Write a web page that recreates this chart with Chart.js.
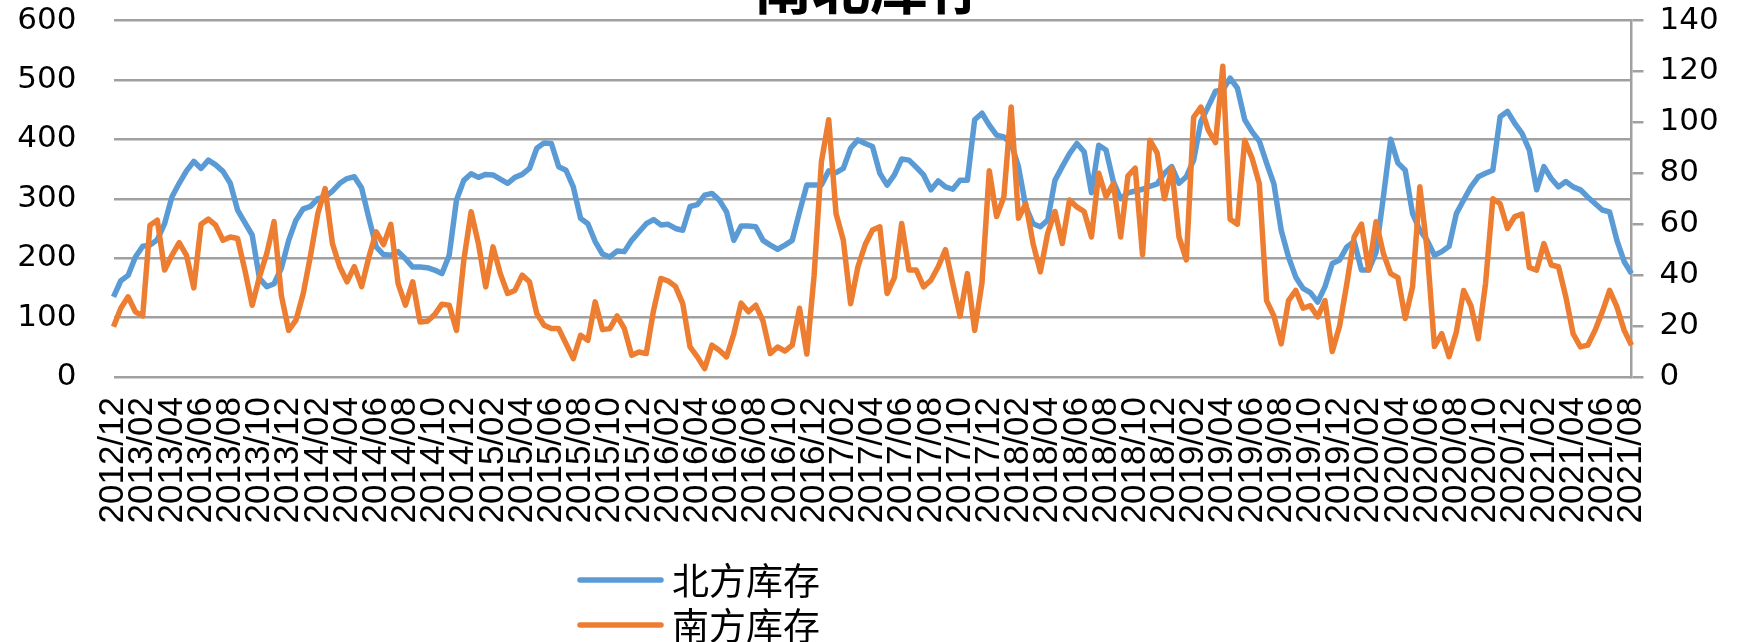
<!DOCTYPE html>
<html>
<head>
<meta charset="utf-8">
<script src="https://cdn.jsdelivr.net/npm/chart.js@4.4.1/dist/chart.umd.min.js"></script>
<style>
html,body{margin:0;padding:0;background:#ffffff;overflow:hidden;width:1740px;height:642px;}
#wrap{position:absolute;left:0;top:-42px;}
canvas{display:block;}
</style>
</head>
<body>
<div id="wrap"><canvas id="c" width="1740" height="684"></canvas></div>
<script>
// ---------- data ----------
const chartTitle = '南北库存';
const seriesNames = ['北方库存', '南方库存'];

const tickLabels = [
  '2012/12',
  '2013/02','2013/04','2013/06','2013/08','2013/10','2013/12',
  '2014/02','2014/04','2014/06','2014/08','2014/10','2014/12',
  '2015/02','2015/04','2015/06','2015/08','2015/10','2015/12',
  '2016/02','2016/04','2016/06','2016/08','2016/10','2016/12',
  '2017/02','2017/04','2017/06','2017/08','2017/10','2017/12',
  '2018/02','2018/04','2018/06','2018/08','2018/10','2018/12',
  '2019/02','2019/04','2019/06','2019/08','2019/10','2019/12',
  '2020/02','2020/04','2020/06','2020/08','2020/10','2020/12',
  '2021/02','2021/04','2021/06','2021/08'
];

// 北方库存 (left axis), semi-monthly readings from 2012/12 to 2021/08
const northStock = [
  135,162,171,202,220,222,231,258,303,326,347,363,351,365,357,346,326,281,260,239,166,152,157,183,230,264,283,287,300,303,313,326,334,337,318,
  267,219,206,205,211,199,185,185,184,180,174,205,298,331,342,336,341,340,333,326,336,341,351,385,394,393,354,348,320,267,258,228,207,202,212,
  211,230,244,258,265,256,257,250,247,287,290,306,309,298,278,230,254,254,253,230,222,215,222,230,278,323,323,323,347,344,351,385,399,393,
  388,343,323,340,367,365,353,340,315,330,320,316,331,331,433,444,424,407,404,393,354,287,258,253,264,331,354,376,393,379,310,390,382,329,300,
  310,313,316,321,325,343,354,326,337,365,430,455,481,483,503,486,433,413,397,360,325,247,202,168,149,142,126,152,191,197,219,228,180,180,
  210,303,400,360,348,275,247,230,205,211,220,275,298,320,337,343,348,438,447,427,410,382,315,354,334,320,329,320,315,303,292,281,278,230,194,174
];

// 南方库存 (right axis), semi-monthly readings from 2012/12 to 2021/08
const southStock = [
  19.7,27,31.5,25.6,24,59.6,61.6,42,47.8,52.8,47.8,35,60,62,59.6,53.7,55,54.4,42,28.2,39.3,48.5,61,32,18.3,22.3,32.8,47.8,64.2,74,52.4,43.3,37.4,43.3,35.5,
  47.2,57,52,60,36.7,28.2,37.4,21.6,21.9,24.5,28.6,28.2,18.3,45.9,64.9,52.4,35.4,51.1,40.6,32.8,34,40,37.4,24.9,20.3,19,19,13.1,7.2,16.4,14.4,29.5,18.6,19,24,
  19,8.5,9.8,9.2,26.2,38.7,37.7,35.6,28.8,11.8,7.9,3.3,12.5,10.5,7.9,17,29,25.6,28.2,22,9.2,11.8,10.2,12.5,27,9,40,84.5,101,64.2,53.7,28.8,43.3,52,
  57.7,59,32.8,39,60.3,42,42,35.4,38,43.3,50,36.7,23.9,40.6,18.3,37,81,63,70.8,106,62.3,68,52.4,41.3,56.4,65,52.4,69.5,66.8,65,55,80,70.8,76,55,
  79,82,48,93,88,70,82,55,46,102,106,97,92,122,62,60,93,86,76,30,24,13,30,34,27,28,23.6,30,10,20,36.7,55,60,42,
  61,48.5,40.6,39,23,35.4,74.7,49.8,12,17,8,17.7,34,28,15,36.7,70,68,58.3,63,64,43,42,52.4,44,43.3,31.5,17,11.8,12.5,18.3,25.6,34,27.5,18.3,12.5
];

// semi-monthly category dates (1st and 16th of each month from 2012/12)
const categories = [];
for (let k = 0; k < northStock.length; k++) {
  const m = 11 + Math.floor(k / 2);
  const yr = 2012 + Math.floor(m / 12);
  const mo = (m % 12) + 1;
  categories.push(yr + '/' + String(mo).padStart(2, '0') + '/' + (k % 2 === 0 ? '01' : '16'));
}

// ---------- styles ----------
const SHIFT = 42; // canvas is shifted up so the title is cropped like the original
const BLUE = '#5B9BD5';
const ORANGE = '#ED7D31';
const GRID = '#a0a0a0';
const NUM_FONT = {family: '"DejaVu Sans", sans-serif', size: 31};

const stackedLegend = {
  id: 'stackedLegend',
  afterDraw(chart) {
    const ctx = chart.ctx;
    ctx.save();
    chart.data.datasets.forEach((ds, i) => {
      const y = 580 + SHIFT + i * 45;
      ctx.strokeStyle = ds.borderColor;
      ctx.lineWidth = 5.5;
      ctx.lineCap = 'round';
      ctx.beginPath();
      ctx.moveTo(580, y);
      ctx.lineTo(661, y);
      ctx.stroke();
      ctx.fillStyle = '#000';
      ctx.font = '37px "Noto Sans CJK SC"';
      ctx.textBaseline = 'middle';
      ctx.textAlign = 'left';
      ctx.fillText(ds.label, 672, y + 1);
    });
    ctx.restore();
  }
};

new Chart(document.getElementById('c'), {
  type: 'line',
  data: {
    labels: categories,
    datasets: [
      {label: seriesNames[0], data: northStock, yAxisID: 'y', borderColor: BLUE, backgroundColor: BLUE,
       borderWidth: 5.5, pointRadius: 0, tension: 0, borderJoinStyle: 'round', order: 1},
      {label: seriesNames[1], data: southStock, yAxisID: 'y1', borderColor: ORANGE, backgroundColor: ORANGE,
       borderWidth: 5.5, pointRadius: 0, tension: 0, borderJoinStyle: 'round', order: 0}
    ]
  },
  options: {
    responsive: false,
    devicePixelRatio: 1,
    animation: false,
    events: [],
    layout: {padding: {top: 0, left: 0, right: 0, bottom: 115}},
    plugins: {
      legend: {display: false},
      tooltip: {enabled: false},
      title: {
        display: true,
        text: chartTitle,
        color: '#000',
        font: {family: '"Noto Sans CJK SC"', size: 58, weight: 'bold', lineHeight: 1},
        padding: {top: 0, bottom: 4.5}
      }
    },
    scales: {
      x: {
        type: 'category',
        grid: {display: false, drawTicks: false},
        border: {display: false},
        afterFit: s => { s.height = 150; },
        ticks: {
          autoSkip: false,
          maxRotation: 90,
          minRotation: 90,
          padding: 20,
          color: '#000',
          font: {family: '"Liberation Sans", Arial, sans-serif', size: 35},
          callback: (v, i) => (i % 4 === 0 ? tickLabels[i / 4] : '')
        }
      },
      y: {
        position: 'left',
        min: 0, max: 600,
        afterFit: s => { s.width = 113.5; },
        grid: {color: GRID, lineWidth: 2.5, drawTicks: false},
        border: {display: false},
        ticks: {stepSize: 100, padding: 37, color: '#000', font: NUM_FONT}
      },
      y1: {
        position: 'right',
        min: 0, max: 140,
        afterFit: s => { s.width = 108.5; },
        grid: {drawOnChartArea: false, drawTicks: true, tickLength: 12, color: GRID, lineWidth: 2.5},
        border: {display: true, color: GRID, width: 2.5},
        ticks: {stepSize: 20, padding: 16, color: '#000', font: NUM_FONT}
      }
    }
  },
  plugins: [stackedLegend]
});
</script>
</body>
</html>
